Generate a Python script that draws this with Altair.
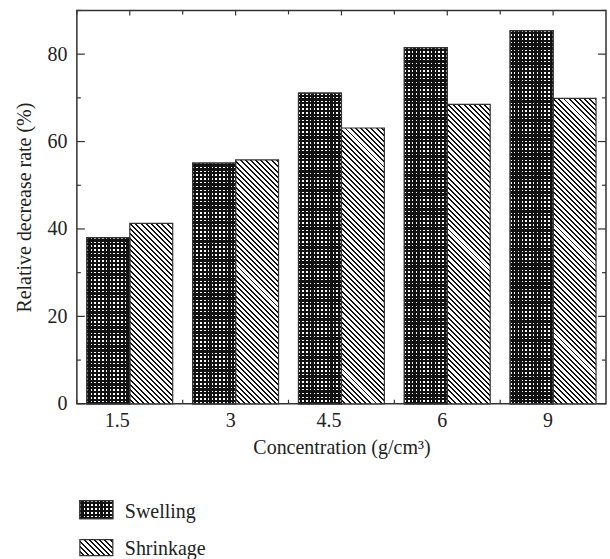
import altair as alt
import pandas as pd

# ---- data -------------------------------------------------------------
CONCENTRATION = ["1.5", "3", "4.5", "6", "9"]
SWELLING = [38.0, 55.1, 71.1, 81.5, 85.4]
SHRINKAGE = [41.3, 55.8, 63.1, 68.5, 69.9]
SERIES = ["Swelling", "Shrinkage"]
Y_MAJOR = [0, 20, 40, 60, 80]
Y_MINOR = [10, 30, 50, 70, 90]

# ---- layout / style ---------------------------------------------------
PLOT_W, PLOT_H, Y_MAX = 530, 394, 90
STEP = PLOT_W / len(CONCENTRATION)
BAR_W = 43
PAD_OUT = (STEP / BAR_W - 2) / 2
FONT = "Liberation Serif"
FS = 20
INK = "#222"
EDGE = "#333"


def stripe_stops(period, dark_frac, dark, light):
    """Hard-edged alternating stops for a repeating stripe fill."""
    stops, start = [], 0.0
    while start < 1.0:
        mid = min(start + period * (1 - dark_frac), 1.0)
        end = min(start + period, 1.0)
        for off, col in ((start, light), (mid, light), (mid, dark), (end, dark)):
            stops.append({"offset": round(off, 5), "color": col})
        start += period
    return stops


def vertical_stripes(w, period, dark_frac, dark="#111", light="#fff"):
    return {"gradient": "linear", "x1": 0, "y1": 0, "x2": 1, "y2": 0,
            "stops": stripe_stops(period / w, dark_frac, dark, light)}


def horizontal_stripes(h, period, dark_frac, dark="#111", light="rgba(0,0,0,0)"):
    return {"gradient": "linear", "x1": 0, "y1": 0, "x2": 0, "y2": 1,
            "stops": stripe_stops(period / h, dark_frac, dark, light)}


def diagonal_stripes(w, h, period, dark_frac, dark="#111", light="#fff"):
    # isolines x - y = const in pixel space, i.e. "\\" hatching
    k = (w + h) / (w * w + h * h)
    return {"gradient": "linear", "x1": 0, "y1": 1, "x2": k * w, "y2": 1 - k * h,
            "stops": stripe_stops(period / (w + h), dark_frac, dark, light)}


CHECK_P, CHECK_DARK = 3.8, 0.6
HATCH_P, HATCH_DARK = 5.2, 0.38

rows = []
for c, sw, sh in zip(CONCENTRATION, SWELLING, SHRINKAGE):
    for s, v in (("Swelling", sw), ("Shrinkage", sh)):
        h = v / Y_MAX * PLOT_H
        if s == "Swelling":
            fa = vertical_stripes(BAR_W, CHECK_P, CHECK_DARK)
            fb = horizontal_stripes(h, CHECK_P, CHECK_DARK)
        else:
            fa = diagonal_stripes(BAR_W, h, HATCH_P, HATCH_DARK)
            fb = None
        rows.append({"conc": c, "series": s, "value": v, "fa": fa, "fb": fb})
bars_df = pd.DataFrame(rows)

x_enc = alt.X("conc:N", sort=CONCENTRATION,
              scale=alt.Scale(domain=CONCENTRATION, paddingInner=0, paddingOuter=0),
              axis=alt.Axis(title="Concentration (g/cm³)", labelAngle=0, ticks=False,
                            domain=False, labelPadding=17, titlePadding=7))
y_enc = alt.Y("value:Q", scale=alt.Scale(domain=[0, Y_MAX], nice=False, zero=True),
              axis=alt.Axis(title="Relative decrease rate (%)", values=Y_MAJOR,
                            ticks=False, domain=False, labelPadding=10, titlePadding=12))
off_enc = alt.XOffset("series:N", sort=SERIES,
                      scale=alt.Scale(domain=SERIES, paddingInner=0, paddingOuter=PAD_OUT))

base = alt.Chart(bars_df)

bars_a = base.mark_bar(stroke=EDGE, strokeWidth=1.2).encode(
    x=x_enc, xOffset=off_enc, y=y_enc, fill=alt.Fill("fa:N", scale=None))
bars_b = base.transform_filter(alt.datum.series == "Swelling").mark_bar(
    stroke=EDGE, strokeWidth=1.2).encode(
    x=x_enc, xOffset=off_enc, y=y_enc, fill=alt.Fill("fb:N", scale=None))

# ---- inward ticks on all four sides -----------------------------------
cat_df = pd.DataFrame({"conc": CONCENTRATION})
tick_style = dict(color=EDGE, strokeWidth=1.2)
xt_bot_c = alt.Chart(cat_df).mark_rule(**tick_style).encode(
    x=alt.X("conc:N"), y=alt.value(PLOT_H), y2=alt.value(PLOT_H - 7))
xt_top_c = alt.Chart(cat_df).mark_rule(**tick_style).encode(
    x=alt.X("conc:N"), y=alt.value(0), y2=alt.value(5))
xt_bot_e = alt.Chart(cat_df).mark_rule(**tick_style).encode(
    x=alt.X("conc:N", bandPosition=0), y=alt.value(PLOT_H), y2=alt.value(PLOT_H - 4))
xt_top_e = alt.Chart(cat_df).mark_rule(**tick_style).encode(
    x=alt.X("conc:N", bandPosition=0), y=alt.value(0), y2=alt.value(4))

maj_df = pd.DataFrame({"value": Y_MAJOR})
min_df = pd.DataFrame({"value": Y_MINOR})
yt = []
for df, ln in ((maj_df, 8), (min_df, 4)):
    yt.append(alt.Chart(df).mark_rule(**tick_style).encode(
        y="value:Q", x=alt.value(0), x2=alt.value(ln)))
    yt.append(alt.Chart(df).mark_rule(**tick_style).encode(
        y="value:Q", x=alt.value(PLOT_W - ln), x2=alt.value(PLOT_W)))

# ---- legend below the x-axis title ------------------------------------
LEG_X0, LEG_X1, LEG_TX = 3, 36, 48
LEG_ROWS = {"Swelling": (491, 509, 508), "Shrinkage": (530, 546, 545)}
legend = []
for s in SERIES:
    y0, y1, ty = LEG_ROWS[s]
    one = alt.Data(values=[{"series": s}])
    sw_h = y1 - y0
    sw_w = LEG_X1 - LEG_X0
    if s == "Swelling":
        fills = [vertical_stripes(sw_w, CHECK_P, CHECK_DARK),
                 horizontal_stripes(sw_h, CHECK_P, CHECK_DARK)]
    else:
        fills = [diagonal_stripes(sw_w, sw_h, HATCH_P, HATCH_DARK)]
    for f in fills:
        legend.append(alt.Chart(one).mark_rect(stroke=EDGE, strokeWidth=1.2).encode(
            x=alt.value(LEG_X0), x2=alt.value(LEG_X1),
            y=alt.value(y0), y2=alt.value(y1), fill=alt.value(f)))
    legend.append(alt.Chart(one).mark_text(
        font=FONT, fontSize=FS, color=INK, align="left", baseline="alphabetic").encode(
        x=alt.value(LEG_TX), y=alt.value(ty), text="series:N"))

chart = alt.layer(
    xt_bot_c, xt_top_c, xt_bot_e, xt_top_e, *yt, bars_a, bars_b, *legend
).properties(
    width=PLOT_W, height=PLOT_H,
    padding={"left": 15, "top": 9, "right": 3, "bottom": 0},
).configure_view(
    stroke=EDGE, strokeWidth=1.5
).configure_axis(
    labelFont=FONT, titleFont=FONT, labelFontSize=FS, titleFontSize=FS,
    titleFontWeight="normal", labelColor=INK, titleColor=INK, grid=False
)

chart.save("out.html", embed_options={"renderer": "svg", "actions": False})
